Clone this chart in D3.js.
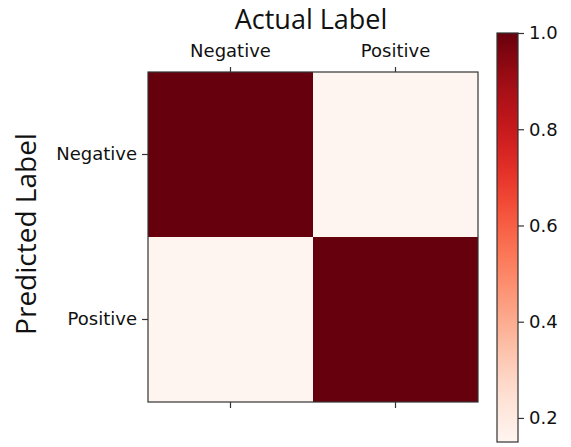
<!DOCTYPE html>
<html>
<head>
<meta charset="utf-8">
<script src="https://cdn.jsdelivr.net/npm/d3@7"></script>
<style>
  html, body { margin: 0; padding: 0; background: #fff; }
  svg { display: block; }
</style>
</head>
<body>
<svg id="chart" width="571" height="447"></svg>
<script>
// Confusion matrix: rows = predicted label, columns = actual label
const classes = ["Negative", "Positive"];
const matrixValues = [
  [1.0, 0.15],
  [0.15, 1.0]
];
const colorbarTicks = [0.2, 0.4, 0.6, 0.8, 1.0];
const colorDomain = [0.15, 1.0];

const svg = d3.select("#chart");
const plot = { left: 148, top: 72, size: 330 };
const axisColor = "#333";
const tickFont = "DejaVu Sans, sans-serif";

const x = d3.scaleBand().domain(classes).range([plot.left, plot.left + plot.size]);
const y = d3.scaleBand().domain(classes).range([plot.top, plot.top + plot.size]);
const color = d3.scaleSequential(d3.interpolateReds).domain(colorDomain);

// Cells
const cells = [];
matrixValues.forEach((row, i) => row.forEach((v, j) => cells.push({ r: classes[i], c: classes[j], v })));
svg.append("g").selectAll("rect").data(cells).join("rect")
  .attr("x", d => x(d.c)).attr("y", d => y(d.r))
  .attr("width", x.bandwidth()).attr("height", y.bandwidth())
  .attr("fill", d => color(d.v));

// Frame
svg.append("rect")
  .attr("x", plot.left).attr("y", plot.top)
  .attr("width", plot.size).attr("height", plot.size)
  .attr("fill", "none").attr("stroke", axisColor).attr("stroke-width", 1.2);

function styleAxis(g, showLabels) {
  g.select(".domain").remove();
  g.selectAll(".tick line").attr("stroke", axisColor).attr("stroke-width", 1.2);
  g.selectAll(".tick text")
    .attr("font-family", tickFont).attr("font-size", 18).attr("fill", "#111");
  if (!showLabels) g.selectAll(".tick text").remove();
}

svg.append("g").attr("transform", `translate(0,${plot.top})`)
  .call(d3.axisTop(x).tickSize(5).tickPadding(10))
  .call(g => styleAxis(g, true));
svg.append("g").attr("transform", `translate(0,${plot.top + plot.size})`)
  .call(d3.axisBottom(x).tickSize(6))
  .call(g => styleAxis(g, false));
svg.append("g").attr("transform", `translate(${plot.left},0)`)
  .call(d3.axisLeft(y).tickSize(6).tickPadding(5))
  .call(g => styleAxis(g, true));

// Axis titles
svg.append("text")
  .attr("x", plot.left + plot.size / 2 - 2).attr("y", 29)
  .attr("text-anchor", "middle")
  .attr("font-family", "Open Sans, sans-serif").attr("font-size", 27).attr("fill", "#111")
  .text("Actual Label");
svg.append("text")
  .attr("transform", `translate(36,${plot.top + plot.size / 2 - 3}) rotate(-90)`)
  .attr("text-anchor", "middle")
  .attr("font-family", "Open Sans, sans-serif").attr("font-size", 28).attr("fill", "#111")
  .text("Predicted Label");

// Colorbar
const cb = { x: 497, y: 33, w: 21, h: 409 };
const cbScale = d3.scaleLinear().domain(colorDomain).range([cb.y + cb.h, cb.y]);
const defs = svg.append("defs");
const grad = defs.append("linearGradient").attr("id", "cbgrad")
  .attr("x1", 0).attr("y1", 1).attr("x2", 0).attr("y2", 0);
d3.range(0, 1.0001, 0.05).forEach(t => {
  grad.append("stop").attr("offset", t)
    .attr("stop-color", color(colorDomain[0] + t * (colorDomain[1] - colorDomain[0])));
});
svg.append("rect")
  .attr("x", cb.x).attr("y", cb.y).attr("width", cb.w).attr("height", cb.h)
  .attr("fill", "url(#cbgrad)").attr("stroke", axisColor).attr("stroke-width", 1.2);
svg.append("g").attr("transform", `translate(${cb.x + cb.w},0)`)
  .call(d3.axisRight(cbScale).tickValues(colorbarTicks).tickFormat(d3.format(".1f")).tickSize(6).tickPadding(5))
  .call(g => styleAxis(g, true));
</script>
</body>
</html>
